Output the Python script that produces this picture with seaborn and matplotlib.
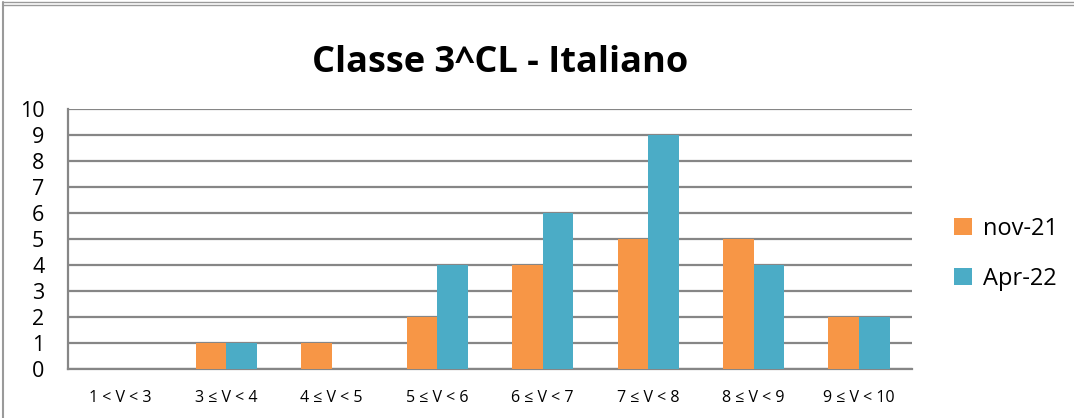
import pandas as pd
import numpy as np
import matplotlib.pyplot as plt
import seaborn as sns
from matplotlib.lines import Line2D

sns.set_style("white")
plt.rcParams['font.family'] = ['Open Sans', 'DejaVu Sans']

fasce = ['1 < V < 3', '3 ≤ V < 4', '4 ≤ V < 5', '5 ≤ V < 6',
         '6 ≤ V < 7', '7 ≤ V < 8', '8 ≤ V < 9', '9 ≤ V < 10']
nov21 = [0, 1, 1, 2, 4, 5, 5, 2]
apr22 = [0, 1, 0, 4, 6, 9, 4, 2]
serie = ['nov-21', 'Apr-22']
colori = ['#F79646', '#4BACC6']

df = pd.DataFrame({
    'fascia': fasce * 2,
    'valore': nov21 + apr22,
    'periodo': [serie[0]] * len(fasce) + [serie[1]] * len(fasce),
})

fig = plt.figure(figsize=(10.74, 4.18), dpi=100)
ax = fig.add_axes([0.0633, 0.117, 0.7857, 0.622])

sns.barplot(data=df, x='fascia', y='valore', hue='periodo', palette=colori,
            width=0.58, saturation=1, linewidth=0, ax=ax, zorder=3)

ax.set_ylim(0, 10)
ax.set_xlim(-0.5, len(fasce) - 0.5)
ax.set_yticks(range(0, 11))
ax.yaxis.grid(True, color='#868686', linewidth=1.6, zorder=0)
ax.set_axisbelow(True)
for s in ['top', 'right']:
    ax.spines[s].set_visible(False)
for s in ['left', 'bottom']:
    ax.spines[s].set_color('#868686')
    ax.spines[s].set_linewidth(1.6)
ax.tick_params(axis='y', labelsize=15.5, length=0, pad=17, colors='black')
ax.tick_params(axis='x', labelsize=11.5, length=0, pad=15, colors='black')
ax.set_xlabel('')
ax.set_ylabel('')

fig.text(0.466, 0.85, 'Classe 3^CL - Italiano', ha='center', va='center',
         fontsize=26, fontweight='bold', color='black')

ax.legend(loc='center left', bbox_to_anchor=(1.025, 0.444), frameon=False,
          fontsize=17, handlelength=0.75, handleheight=0.75,
          handletextpad=0.45, labelspacing=1.1, labelcolor='black')

# cornice del grafico
fig.add_artist(Line2D([0.003, 0.003], [0, 0.995], color='#9a9a9a', lw=1.5))
fig.add_artist(Line2D([0.003, 1], [0.995, 0.995], color='#9a9a9a', lw=1.0))
fig.add_artist(Line2D([0.003, 1], [0.988, 0.988], color='#9a9a9a', lw=1.0))

fig.savefig('out.png', dpi=100)
